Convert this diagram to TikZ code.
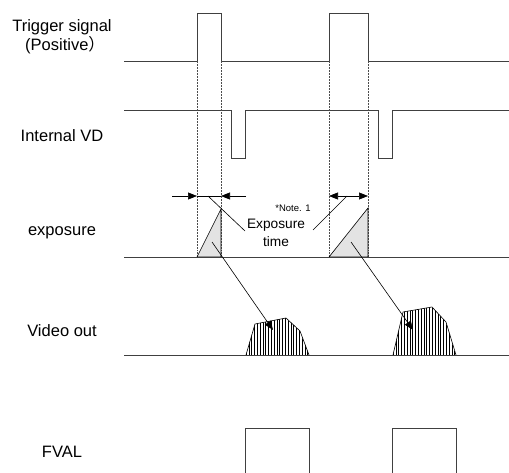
\documentclass[tikz,border=0pt]{standalone}
\usepackage{fontspec}
\setmainfont{Liberation Sans}
\newfontfamily\cjkfont{Noto Sans CJK SC}
\usetikzlibrary{arrows.meta}
\begin{document}
\begin{tikzpicture}[x=1pt,y=-1pt,
  sig/.style={line width=0.9pt,draw=black!75},
  guide/.style={densely dotted,line width=0.5pt,draw=black!70},
  lbl/.style={font=\fontsize{16.5}{19}\selectfont,inner sep=0pt},
  tip/.style={-{Triangle[length=9pt,width=7pt]},line width=0.6pt},
  lead/.style={line width=0.6pt},
  expo/.style={fill=gray!22,draw=black,line width=0.6pt},
  blob/.style={draw=black,line width=0.6pt}]
\useasboundingbox (0,0) rectangle (509,473);
% labels
\node[lbl] (ltrig) at (62,27) {Trigger signal};
\node[lbl,anchor=west] (lpos) at (25,45) {(Positive{\cjkfont ）}};
\node[lbl] (lvd) at (62,136) {Internal VD};
\node[lbl] (lexp) at (62,233) {exposure};
\node[lbl] (lvid) at (62,331) {Video out};
\node[lbl] (lfval) at (62,452) {FVAL};
% trigger
\draw[sig] (124,61) -- (197,61) -- (197,13) -- (221,13) -- (221,61) -- (329,61) -- (329,13) -- (368,13) -- (368,61) -- (509,61);
% internal VD
\draw[sig] (124,110) -- (231,110) -- (231,158) -- (245,158) -- (245,110) -- (378,110) -- (378,158) -- (392,158) -- (392,110) -- (509,110);
% guides
\foreach \gx in {197,221,329,368} \draw[guide] (\gx,61) -- (\gx,257);
% exposure
\draw[expo] (197,257) -- (221,209) -- (221,257) -- cycle;
\draw[expo] (329,257) -- (368,208) -- (368,257) -- cycle;
\draw[sig] (124,257) -- (509,257);
% exposure time arrows
\coordinate (a1s) at (172,196); \coordinate (a1e) at (197,196);
\coordinate (a2s) at (246,196); \coordinate (a2e) at (221,196);
\draw[tip] (a1s) -- (a1e);
\draw[tip] (a2s) -- (a2e);
\draw[lead] (a1e) -- (a2e);
\coordinate (b1) at (329,196); \coordinate (b2) at (368,196);
\draw[{Triangle[length=9pt,width=7pt]}-{Triangle[length=9pt,width=7pt]},line width=0.6pt] (b1) -- (b2);
\node[inner sep=0pt,font=\fontsize{13.7}{15}\selectfont] (etime) at (276,225) {Exposure};
\node[inner sep=0pt,font=\fontsize{13.7}{15}\selectfont] (etime2) at (276,242) {time};
\node[inner sep=0pt,font=\fontsize{9.5}{10}\selectfont] (note) at (293,208) {*Note. 1};
\coordinate (l1a) at (208,196); \coordinate (l1b) at (245,231);
\coordinate (l2a) at (347,196); \coordinate (l2b) at (313,230);
\draw[lead] (l1a) -- (l1b);
\draw[lead] (l2a) -- (l2b);
% video out
\begin{scope}
\clip (246,355) -- (255,324) -- (286,318) -- (300,331) -- (309,355) -- cycle;
\foreach \hx in {246,248.8,...,312} \draw[line width=0.45pt] (\hx,300) -- (\hx,356);
\end{scope}
\draw[blob] (246,355) -- (255,324) -- (286,318) -- (300,331) -- (309,355);
\begin{scope}
\clip (393,355) -- (403,312) -- (432,307) -- (446,322) -- (456,355) -- cycle;
\foreach \hx in {393,395.8,...,459} \draw[line width=0.45pt] (\hx,300) -- (\hx,356);
\end{scope}
\draw[blob] (393,355) -- (403,312) -- (432,307) -- (446,322) -- (456,355);
\draw[sig] (124,355) -- (509,355);
% arrows exposure -> video
\coordinate (e1) at (212,242); \coordinate (v1) at (273,330);
\coordinate (e2) at (351,242); \coordinate (v2) at (413,330);
\draw[tip] (e1) -- (v1);
\draw[tip] (e2) -- (v2);
% FVAL
\draw[sig] (245,473) -- (245,428) -- (309,428) -- (309,473);
\draw[sig] (392,473) -- (392,428) -- (456,428) -- (456,473);
\end{tikzpicture}
\end{document}
